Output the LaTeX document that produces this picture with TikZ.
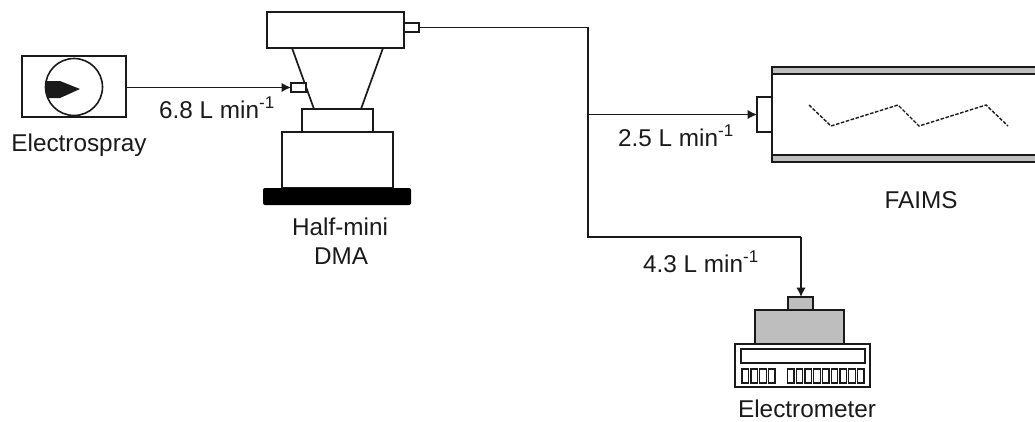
\documentclass[tikz,border=0pt]{standalone}
\usepackage{fontspec}
\setmainfont{Liberation Sans}
\usetikzlibrary{arrows.meta,calc}
\definecolor{ink}{HTML}{1A1A1A}
\definecolor{fillgray}{HTML}{BEBEBE}
\newcommand{\pxbox}[6][]{%
  \node[partbox,#1,minimum width=#4-#2,minimum height=#5-#3] (#6) at ({(#2+#4)/2},{(#3+#5)/2}) {};}
\tikzset{
  partbox/.style={draw=ink,line width=1.7pt,rectangle,inner sep=0pt,outer sep=0pt,fill=white},
  thinpart/.style={line width=1.4pt},
  flowline/.style={draw=ink,line width=1.5pt},
  flowarrow/.style={flowline,-{Latex[length=9.5pt,width=9.5pt]}},
  lbl/.style={text=ink,inner sep=0pt,anchor=base,font=\fontsize{24.3pt}{28pt}\selectfont},
  graybox/.style={fill=fillgray},
}
\begin{document}
\begin{tikzpicture}[x=1pt,y=-1pt]
\useasboundingbox (0,0) rectangle (1035,421);
% Electrospray
\pxbox{22}{56}{126}{117}{esbox}
\node[draw=ink,line width=1.6pt,circle,minimum size=57pt,inner sep=0pt,outer sep=0pt] (escircle) at (74,87) {};
\fill[ink] (45.5,81) -- (60,81) -- (80,89) -- (60,98) -- (47,98) -- (45.5,90) -- cycle;
\node[lbl] (eslabel) at (79,151) {Electrospray};
% DMA
\draw[ink,line width=1.7pt] (292,48) -- (314,109) (383,48) -- (361,109);
\pxbox{267}{12}{404}{48}{dmatop}
\pxbox{302}{109}{373}{132}{dmamid}
\pxbox{282}{132}{393}{188}{dmalow}
\node[fill=black,rounded corners=2pt,minimum width=148pt,minimum height=17pt,inner sep=0pt,outer sep=0pt] (dmabase) at (337,196.5) {};
\pxbox[thinpart]{291}{83}{306}{92}{inlet}
\pxbox[thinpart]{404}{23}{419}{32}{outlet}
\node[lbl] (dmalabel1) at (340,235) {Half-mini};
\node[lbl] (dmalabel2) at (341,264) {DMA};
% FAIMS
\fill[fillgray] (772,67) rectangle (1035,74) (772,155) rectangle (1035,162);
\draw[ink,line width=1.7pt] (1035,67) -- (772,67) -- (772,162) -- (1035,162)
  (772,74) -- (1035,74) (772,155) -- (1035,155);
\pxbox[thinpart]{757}{97}{772}{132}{faimsin}
\draw[ink,line width=1.4pt,dash pattern=on 3.5pt off 1.6pt] (809,105) -- (831,126) -- (898,105) -- (919,126) -- (986,105) -- (1008,126);
\node[lbl] (faimslabel) at (921,208) {FAIMS};
% Electrometer
\pxbox[graybox]{788}{297}{813}{310}{emtop}
\pxbox[graybox]{755}{310}{844}{344}{embody}
\pxbox{735}{344}{870}{387}{embase}
\pxbox[thinpart]{741}{349}{865}{363}{emdisplay}
\foreach \i in {0,...,3} {
  \draw[ink,line width=1.3pt] ({742+\i*8.9},369) rectangle ++(6.4,14);
}
\foreach \i in {0,...,8} {
  \draw[ink,line width=1.3pt] ({787.5+\i*8.75},369) rectangle ++(6.4,14);
}
\node[lbl] (emlabel) at (807,417) {Electrometer};
% Connectors
\coordinate (junction) at (588,27);
\coordinate (corner) at (588,237);
\coordinate (drop) at (801,237);
\draw[flowarrow] (esbox.east |- inlet.west) -- (inlet.west);
\draw[flowline,line join=miter] (outlet.east) -- (outlet.east -| junction) -- (corner) -- (drop);
\draw[flowarrow] (faimsin.west -| junction) -- (faimsin.west);
\draw[flowarrow] (drop) -- (drop |- emtop.north);
% Flow labels
\node[lbl] (flow1) at (217,118) {6.8 L min\textsuperscript{-1}};
\node[lbl] (flow2) at (676,146) {2.5 L min\textsuperscript{-1}};
\node[lbl] (flow3) at (701,272) {4.3 L min\textsuperscript{-1}};
\end{tikzpicture}
\end{document}
